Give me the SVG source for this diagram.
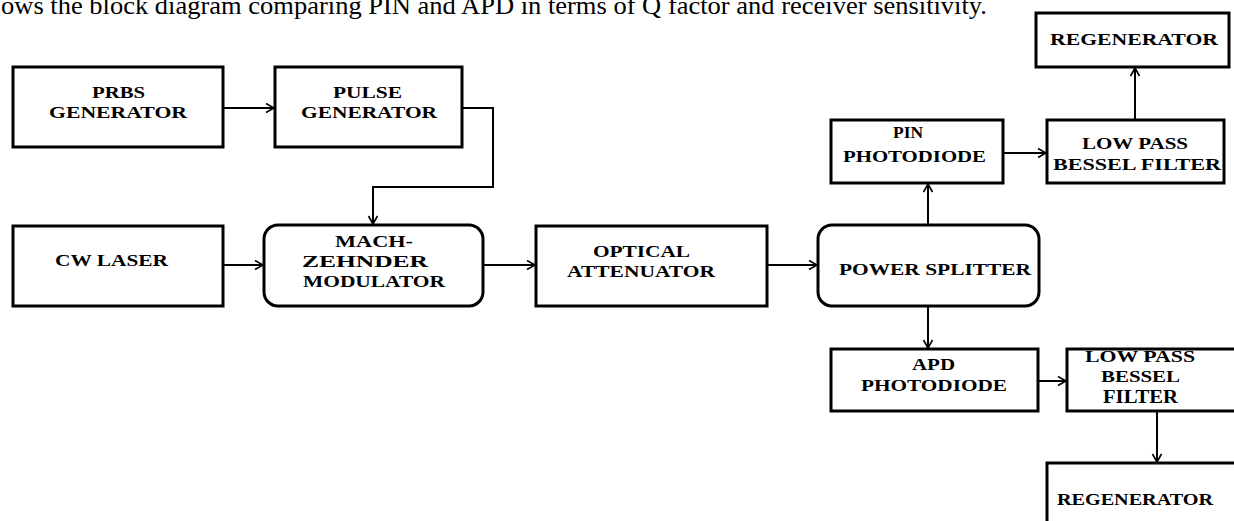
<svg xmlns="http://www.w3.org/2000/svg" width="1234" height="521" viewBox="0 0 1234 521">
<style>
.box{fill:#fff;stroke:#000;stroke-width:3}
.lbl{font-family:"Liberation Serif","Times New Roman",serif;font-weight:bold;font-size:16px;fill:#000}
.con{fill:none;stroke:#000;stroke-width:2}
.cap{font-family:"Liberation Serif","Times New Roman",serif;font-size:26px;fill:#000}
</style>
<defs>
<marker id="arr" markerUnits="userSpaceOnUse" markerWidth="12" markerHeight="12" refX="9" refY="5" orient="auto">
<path d="M1,0.5 L9,5 L1,9.5" fill="none" stroke="#000" stroke-width="1.6"/>
</marker>
</defs>
<text class="cap" x="1" y="14" textLength="986" lengthAdjust="spacingAndGlyphs">ows the block diagram comparing PIN and APD in terms of Q factor and receiver sensitivity.</text>
<g id="connectors">
<path class="con" d="M223,108 L274,108" marker-end="url(#arr)"/>
<path class="con" d="M462,108 L493,108 L493,187 L373,187 L373,224" marker-end="url(#arr)"/>
<path class="con" d="M223,265 L263,265" marker-end="url(#arr)"/>
<path class="con" d="M483,265 L535,265" marker-end="url(#arr)"/>
<path class="con" d="M767,265 L817,265" marker-end="url(#arr)"/>
<path class="con" d="M928,225 L928,184" marker-end="url(#arr)"/>
<path class="con" d="M928,306 L928,348" marker-end="url(#arr)"/>
<path class="con" d="M1003,153 L1046,153" marker-end="url(#arr)"/>
<path class="con" d="M1135,120 L1135,68" marker-end="url(#arr)"/>
<path class="con" d="M1038,381 L1066,381" marker-end="url(#arr)"/>
<path class="con" d="M1157,411 L1157,462" marker-end="url(#arr)"/>
</g>
<g id="prbs">
<rect class="box" x="13" y="67" width="210" height="80"/>
<text class="lbl" x="92" y="98" textLength="53" lengthAdjust="spacingAndGlyphs">PRBS</text>
<text class="lbl" x="49" y="118" textLength="138" lengthAdjust="spacingAndGlyphs">GENERATOR</text>
</g>
<g id="pulse">
<rect class="box" x="275" y="67" width="187" height="80"/>
<text class="lbl" x="333" y="98" textLength="69" lengthAdjust="spacingAndGlyphs">PULSE</text>
<text class="lbl" x="301" y="118" textLength="136" lengthAdjust="spacingAndGlyphs">GENERATOR</text>
</g>
<g id="cwlaser">
<rect class="box" x="13" y="226" width="210" height="80"/>
<text class="lbl" x="55" y="266" textLength="113" lengthAdjust="spacingAndGlyphs">CW LASER</text>
</g>
<g id="mzm">
<rect class="box" x="264" y="225" width="219" height="81" rx="14"/>
<text class="lbl" x="335" y="247" textLength="78" lengthAdjust="spacingAndGlyphs">MACH-</text>
<text class="lbl" x="302" y="267" textLength="126" lengthAdjust="spacingAndGlyphs">ZEHNDER</text>
<text class="lbl" x="303" y="287" textLength="142" lengthAdjust="spacingAndGlyphs">MODULATOR</text>
</g>
<g id="attenuator">
<rect class="box" x="536" y="226" width="231" height="80"/>
<text class="lbl" x="593" y="257" textLength="97" lengthAdjust="spacingAndGlyphs">OPTICAL</text>
<text class="lbl" x="567" y="277" textLength="148" lengthAdjust="spacingAndGlyphs">ATTENUATOR</text>
</g>
<g id="splitter">
<rect class="box" x="818" y="225" width="221" height="81" rx="14"/>
<text class="lbl" x="839" y="275" textLength="192" lengthAdjust="spacingAndGlyphs">POWER SPLITTER</text>
</g>
<g id="pin">
<rect class="box" x="831" y="120" width="172" height="63"/>
<text class="lbl" x="893" y="138" textLength="30" lengthAdjust="spacingAndGlyphs">PIN</text>
<text class="lbl" x="843" y="162" textLength="143" lengthAdjust="spacingAndGlyphs">PHOTODIODE</text>
</g>
<g id="lpf1">
<rect class="box" x="1047" y="120" width="177" height="63"/>
<text class="lbl" x="1082" y="149" textLength="106" lengthAdjust="spacingAndGlyphs">LOW PASS</text>
<text class="lbl" x="1053" y="170" textLength="168" lengthAdjust="spacingAndGlyphs">BESSEL FILTER</text>
</g>
<g id="regen1">
<rect class="box" x="1036" y="13" width="193" height="54"/>
<text class="lbl" x="1050" y="45" textLength="168" lengthAdjust="spacingAndGlyphs">REGENERATOR</text>
</g>
<g id="apd">
<rect class="box" x="831" y="349" width="207" height="62"/>
<text class="lbl" x="912" y="370" textLength="43" lengthAdjust="spacingAndGlyphs">APD</text>
<text class="lbl" x="861" y="391" textLength="146" lengthAdjust="spacingAndGlyphs">PHOTODIODE</text>
</g>
<g id="lpf2">
<rect class="box" x="1067" y="349" width="200" height="62"/>
<text class="lbl" x="1085" y="362" textLength="110" lengthAdjust="spacingAndGlyphs">LOW PASS</text>
<text class="lbl" x="1101" y="382" textLength="79" lengthAdjust="spacingAndGlyphs">BESSEL</text>
<text class="lbl" x="1103" y="403" textLength="75" lengthAdjust="spacingAndGlyphs" style="font-size:18px">FILTER</text>
</g>
<g id="regen2">
<rect class="box" x="1047" y="463" width="220" height="80"/>
<text class="lbl" x="1057" y="505" textLength="156" lengthAdjust="spacingAndGlyphs">REGENERATOR</text>
</g>
</svg>
